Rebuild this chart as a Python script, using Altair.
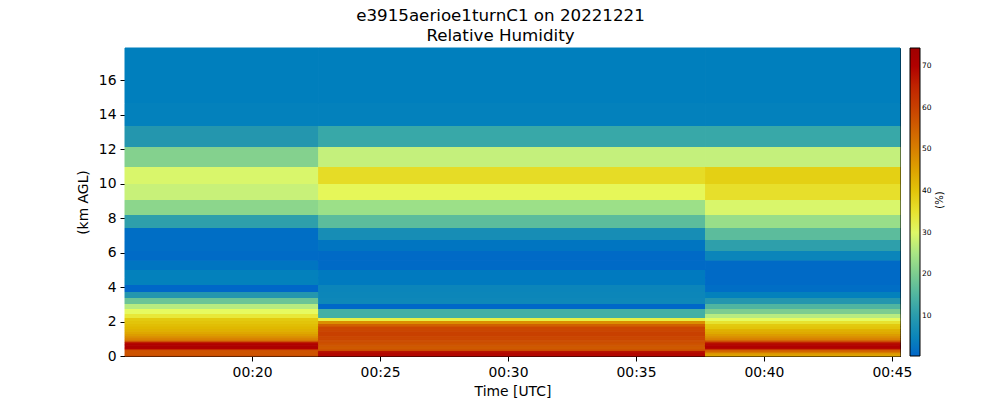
import altair as alt
import pandas as pd

# Column edges (UTC time of each profile column)
time_edges = ["00:15:02", "00:22:35", "00:37:42", "00:45:19"]

# Height band edges (km AGL), top to bottom
height_edges = [17.86, 14.65, 13.33, 12.12, 10.96, 9.97, 9.04, 8.17, 7.42, 6.72,
                6.09, 5.52, 4.99, 4.53, 4.12, 3.71, 3.36, 3.01, 2.72, 2.43,
                2.20, 2.03, 1.86, 1.70, 1.55, 1.40, 1.27, 1.15, 1.03, 0.92,
                0.82, 0.72, 0.63, 0.55, 0.47, 0.40, 0.33, 0.27, 0.21, 0.16,
                0.11, 0.06, 0.0]

# Relative humidity (%) per band, top to bottom, for each column
rh_col1 = [3.0, 3.5, 9.0, 21, 29.5, 27.5, 22, 11, 1.2, 1.2,
           0.9, 2.0, 3.5, 3.5, 0.5, 9, 18, 26, 31, 34,
           39, 40, 41, 42, 43, 44.5, 46, 48, 50, 53,
           66, 70, 71, 71, 70, 64, 57, 57, 57, 57,
           57, 58]
rh_col2 = [3.0, 3.6, 13, 27, 36, 31.5, 24, 16, 7, 2,
           0.8, 0.8, 2.5, 2.5, 5, 5.3, 5.6, 0.5, 14, 14,
           33, 48, 55, 59, 59, 60, 60, 59, 59, 58,
           58, 57, 57, 56, 56, 57, 58, 68, 68, 69,
           69, 69]
rh_col3 = [3.0, 3.6, 13, 27, 38, 35.5, 29.5, 23.5, 16, 11,
           5, 0.8, 0.8, 0.8, 1.2, 3.5, 9, 15, 20, 26,
           31, 35, 39, 40, 43, 44, 46, 48, 50, 55,
           65, 69, 70, 70, 69, 62, 55, 54, 50, 47,
           46, 45]

# Colormap stops
cmap_values = [0.4, 3, 6, 9, 13, 16, 20, 24, 27, 31, 34, 38, 42, 46, 50, 55, 60, 65, 70, 74.3]
cmap_colors = ["#0066c8", "#007fbd", "#1088b8", "#2496ae", "#38a8a8", "#5cbc9c",
               "#7ccc90", "#9ce088", "#c4f07c", "#e6fa60", "#e8e838", "#e4d014",
               "#e0b800", "#dc9c00", "#d88000", "#d06000", "#c84000", "#c02400",
               "#b00000", "#a00000"]


def to_min(s):
    h, m, sec = s.split(":")
    return int(h) * 60 + int(m) + int(sec) / 60.0


rows = []
for ci, col in enumerate([rh_col1, rh_col2, rh_col3]):
    t0 = to_min(time_edges[ci])
    t1 = to_min(time_edges[ci + 1])
    for bi, v in enumerate(col):
        rows.append({"t0": t0, "t1": t1,
                     "h_top": height_edges[bi], "h_bot": height_edges[bi + 1],
                     "rh": v, "rh_edge": v})
df = pd.DataFrame(rows)

xdom = [to_min(time_edges[0]), to_min(time_edges[-1])]

color_scale = alt.Scale(domain=cmap_values, range=cmap_colors, interpolate="rgb")

base = alt.Chart(df).encode(
    x=alt.X("t0:Q", scale=alt.Scale(domain=xdom, nice=False, zero=False),
            axis=alt.Axis(values=[20, 25, 30, 35, 40, 45],
                          labelExpr="'00:' + datum.value",
                          title="Time [UTC]", grid=False)),
    x2="t1:Q",
    y=alt.Y("h_bot:Q", scale=alt.Scale(domain=[0, 17.86], nice=False),
            axis=alt.Axis(values=[0, 2, 4, 6, 8, 10, 12, 14, 16],
                          title="(km AGL)", grid=False)),
    y2="h_top:Q",
)

# edge layer underneath to hide anti-aliasing seams between cells
edges = base.mark_rect(filled=False, strokeWidth=1).encode(
    stroke=alt.Stroke("rh_edge:Q", scale=color_scale, legend=None),
)

heat = base.mark_rect().encode(
    color=alt.Color("rh:Q", scale=color_scale,
                    legend=alt.Legend(title=None, type="gradient",
                                      values=[10, 20, 30, 40, 50, 60, 70],
                                      orient="none", legendX=785, legendY=0,
                                      direction="vertical", gradientLength=308,
                                      gradientThickness=10)),
)

unit_text = alt.Chart(alt.Data(values=[{"label": "(%)"}])).mark_text(
    angle=270, fontSize=10, font="DejaVu Sans", color="black"
).encode(x=alt.value(815), y=alt.value(152), text="label:N")

chart = alt.layer(edges, heat, unit_text).properties(
    width=775, height=308,
    autosize=alt.AutoSizeParams(type="none"),
    padding={"left": 117, "top": 40, "right": 92, "bottom": 42},
    title=alt.Title(["e3915aerioe1turnC1 on 20221221", "Relative Humidity"],
                    fontSize=16.7, font="DejaVu Sans", fontWeight="normal",
                    color="black", anchor="middle", offset=3, lineHeight=20, dx=-12),
).resolve_scale(color="independent", stroke="independent").configure_view(
    stroke="black", strokeWidth=1
).configure_axis(
    labelFont="DejaVu Sans", titleFont="DejaVu Sans",
    labelFontSize=13.9, titleFontSize=13.9, titleFontWeight="normal",
    labelColor="black", titleColor="black",
    domainColor="black", tickColor="black", tickSize=5, tickWidth=1,
    labelPadding=4,
).configure_axisX(titlePadding=6).configure_axisY(titlePadding=8).configure_legend(
    labelFont="DejaVu Sans", labelFontSize=7.5, labelColor="black", labelOffset=12,
    gradientStrokeColor="black", gradientStrokeWidth=1, padding=0,
)

chart.save("out.html", embed_options={"renderer": "svg", "actions": False})
